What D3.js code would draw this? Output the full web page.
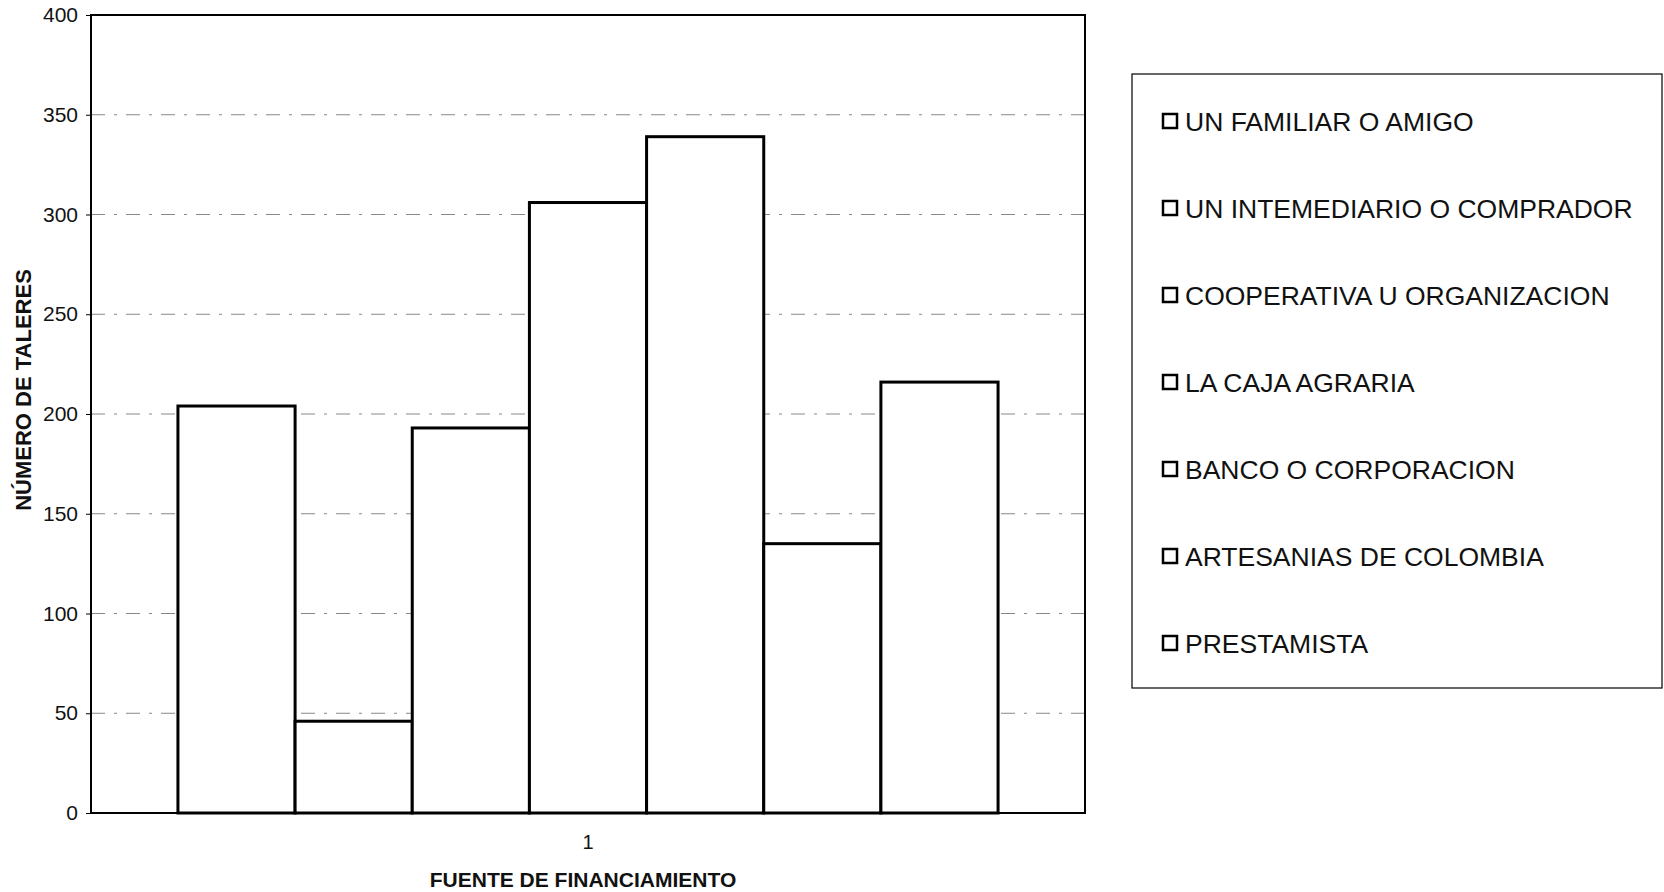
<html>
<head>
<style>
  body { margin: 0; background: #fff; }
  svg { display: block; font-family: "Liberation Sans", Arial, sans-serif; }
  .y.axis text { font-size: 21px; fill: #111; }
  .x.axis text { font-size: 20px; fill: #111; }
  .axis-title { font-size: 21px; font-weight: bold; fill: #111; }
  .legend-label { font-size: 26.5px; fill: #111; }
</style>
</head>
<body>
<svg width="1664" height="892"></svg>
<script src="https://cdn.jsdelivr.net/npm/d3@7"></script>
<script>
  // chart values
  let groups = ["1"]
  let sources = [
    "UN FAMILIAR O AMIGO",
    "UN INTEMEDIARIO O COMPRADOR",
    "COOPERATIVA U ORGANIZACION",
    "LA CAJA AGRARIA",
    "BANCO O CORPORACION",
    "ARTESANIAS DE COLOMBIA",
    "PRESTAMISTA"
  ]
  let talleres = [204, 46, 193, 306, 339, 135, 216]
  let yTicks = [0, 50, 100, 150, 200, 250, 300, 350, 400]

  let svg = d3.select("svg")
  let margin = {top: 15, right: 579, bottom: 79, left: 91}
  let width = 1664, height = 892

  let x0 = d3.scaleBand()
    .domain(groups)
    .range([margin.left, width - margin.right])
    .paddingInner(0)
    .paddingOuter(0.106)

  let x1 = d3.scaleBand()
    .domain(sources)
    .range([0, x0.bandwidth()])

  let y = d3.scaleLinear()
    .domain([0, 400])
    .range([height - margin.bottom, margin.top])

  // gridlines (dash-dot, light)
  svg.append("g")
    .attr("class", "grid")
    .selectAll("line")
    .data(yTicks.filter(d => d > 0 && d < 400))
    .join("line")
    .attr("x1", margin.left)
    .attr("x2", width - margin.right)
    .attr("y1", d => y(d))
    .attr("y2", d => y(d))
    .attr("stroke", "#888")
    .attr("stroke-width", 1)
    .attr("stroke-dasharray", "14,9,3,9")

  // bars
  svg.append("g")
    .selectAll("rect")
    .data(sources.map((s, i) => ({key: s, value: talleres[i]})))
    .join("rect")
    .attr("x", d => x0("1") + x1(d.key))
    .attr("y", d => y(d.value))
    .attr("width", x1.bandwidth())
    .attr("height", d => y(0) - y(d.value))
    .attr("fill", "#fff")
    .attr("stroke", "#000")
    .attr("stroke-width", 3)

  // plot frame
  svg.append("rect")
    .attr("x", margin.left)
    .attr("y", margin.top)
    .attr("width", width - margin.right - margin.left)
    .attr("height", y(0) - margin.top)
    .attr("fill", "none")
    .attr("stroke", "#000")
    .attr("stroke-width", 2)

  let yAxis = svg.append("g")
    .attr("class", "y axis")
    .attr("transform", `translate(${margin.left},0)`)
    .call(d3.axisLeft(y).tickValues(yTicks).tickSize(5).tickPadding(8))
    .call(g => g.select(".domain").remove())
  yAxis.selectAll(".tick line").attr("stroke", "#000")

  svg.append("g")
    .attr("class", "x axis")
    .attr("transform", `translate(0,${y(0)})`)
    .call(d3.axisBottom(x0).tickSize(0).tickPadding(22))
    .call(g => g.select(".domain").remove())

  svg.append("text")
    .attr("class", "axis-title")
    .attr("x", 583)
    .attr("y", 887)
    .attr("text-anchor", "middle")
    .text("FUENTE DE FINANCIAMIENTO")

  svg.append("text")
    .attr("class", "axis-title")
    .attr("transform", "translate(31,390) rotate(-90)")
    .attr("text-anchor", "middle")
    .attr("font-size", "22px")
    .style("font-size", "22px")
    .text("NÚMERO DE TALERES")

  // legend
  let legend = svg.append("g").attr("class", "legend")
  legend.append("rect")
    .attr("x", 1132)
    .attr("y", 74)
    .attr("width", 530)
    .attr("height", 614)
    .attr("fill", "#fff")
    .attr("stroke", "#000")
    .attr("stroke-width", 1.2)

  let ly = d3.scalePoint()
    .domain(sources)
    .range([121, 643])

  legend.selectAll(".swatch")
    .data(sources)
    .join("rect")
    .attr("class", "swatch")
    .attr("x", 1163)
    .attr("y", d => ly(d) - 7)
    .attr("width", 14)
    .attr("height", 14)
    .attr("fill", "#fff")
    .attr("stroke", "#000")
    .attr("stroke-width", 2.5)

  legend.selectAll(".legend-label")
    .data(sources)
    .join("text")
    .attr("class", "legend-label")
    .attr("x", 1185)
    .attr("y", d => ly(d))
    .attr("dy", "0.36em")
    .text(d => d)
</script>
</body>
</html>
